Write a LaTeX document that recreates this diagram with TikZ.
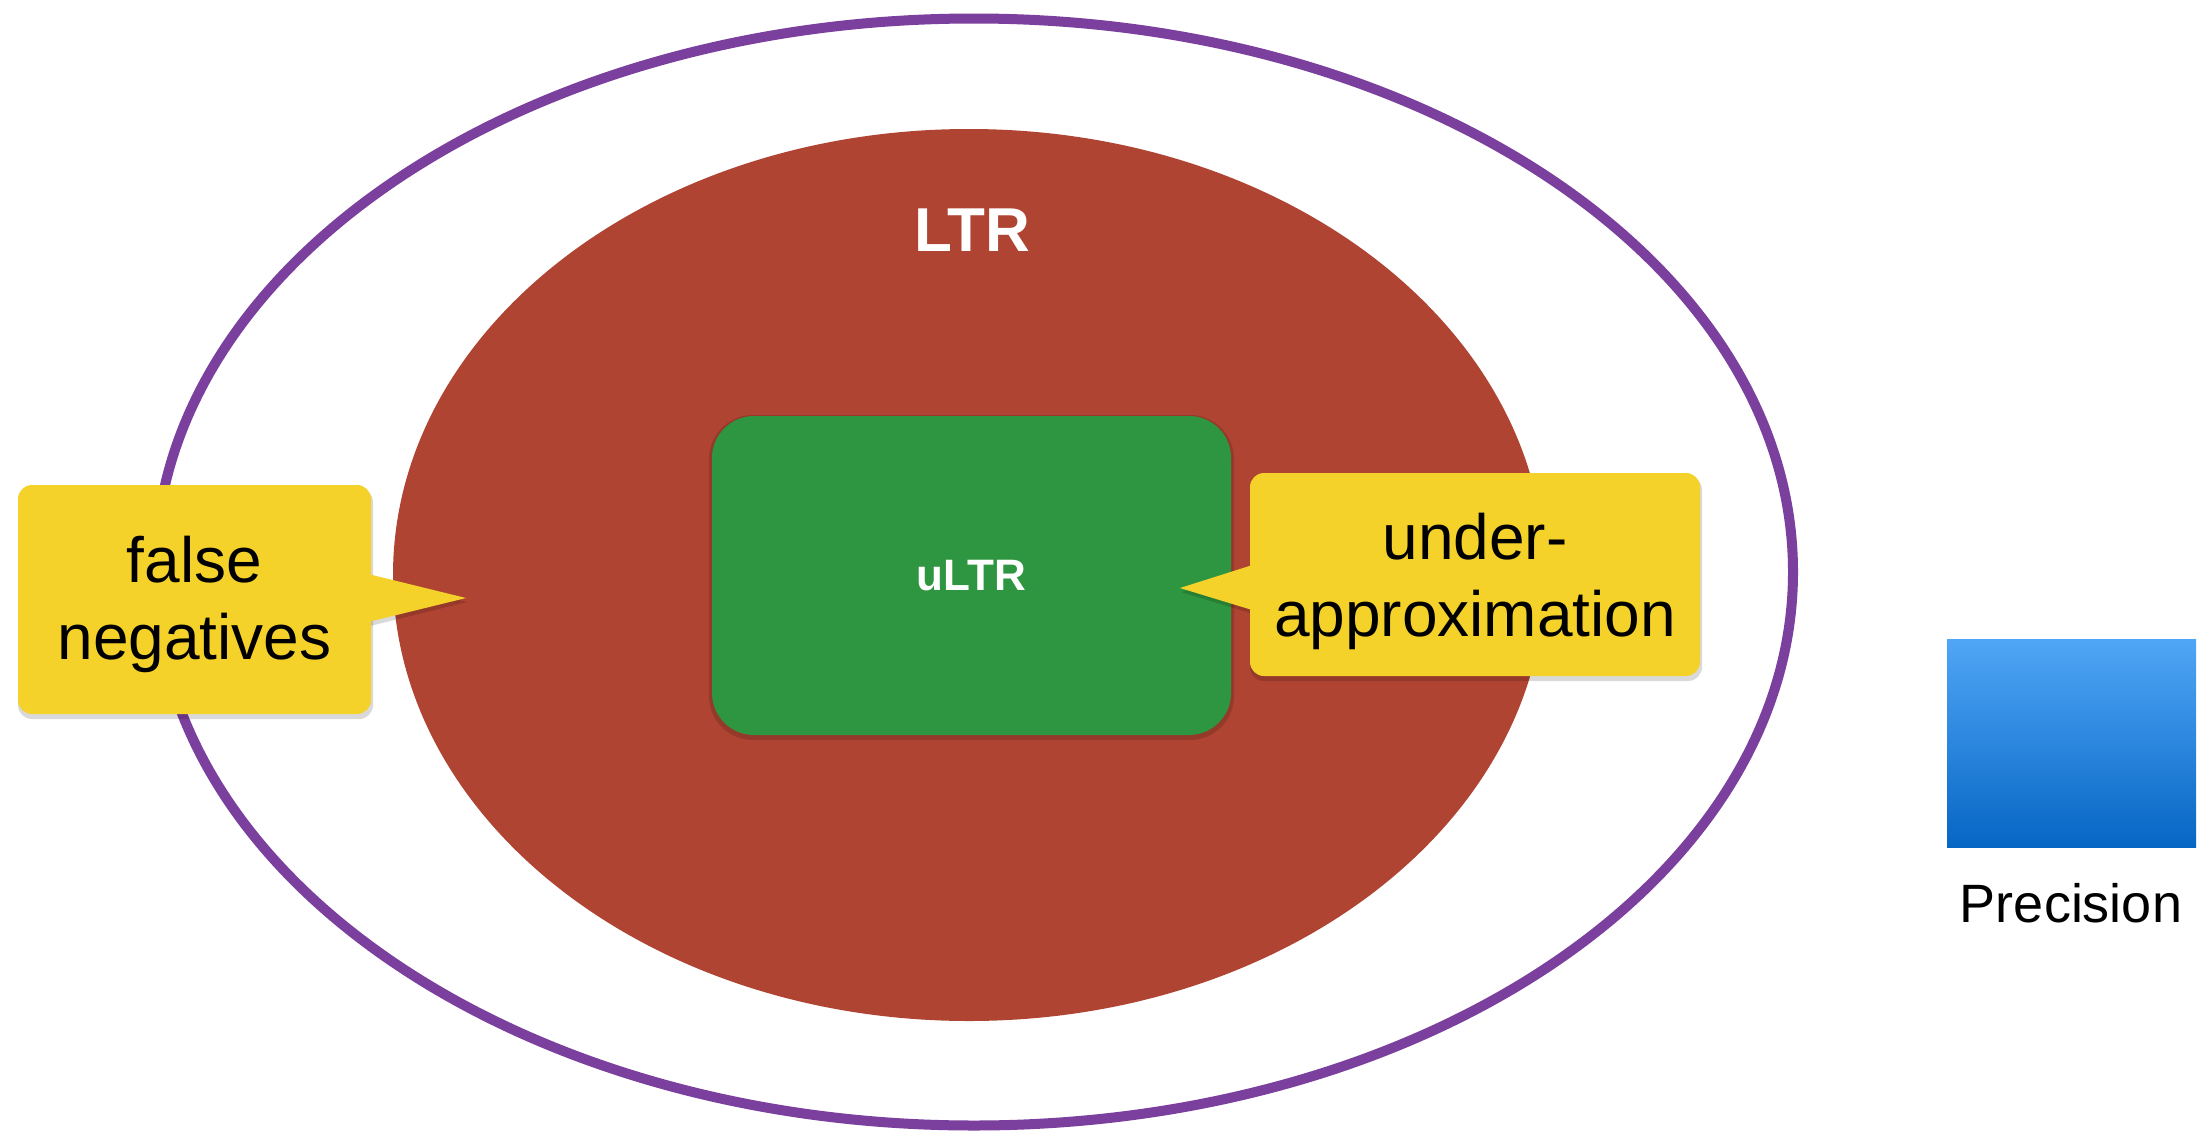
\documentclass[tikz,border=0pt]{standalone}
\usepackage{fontspec}
\setmainfont{Liberation Sans}
\usetikzlibrary{shapes.geometric}
\definecolor{purp}{RGB}{123,63,158}
\definecolor{ltrred}{RGB}{176,68,50}
\definecolor{ugreen}{RGB}{46,150,64}
\definecolor{cyellow}{RGB}{245,210,42}
\definecolor{btop}{RGB}{80,166,246}
\definecolor{bbot}{RGB}{6,102,196}
\tikzset{
  calloutbox/.style={fill=cyellow, rounded corners=14pt, inner sep=0pt, outer sep=0pt},
  calloutshadow/.style={fill=black, opacity=0.15, rounded corners=14pt, inner sep=0pt, outer sep=0pt},
  callouttext/.style={align=center, font=\fontsize{64}{77}\selectfont, text=black},
  whitebold/.style={text=white, font=\bfseries},
}
\begin{document}
\begin{tikzpicture}[x=1pt,y=-1pt]
\useasboundingbox (0,0) rectangle (2203,1135);
% outer set
\node[ellipse, draw=purp, line width=10pt, minimum width=1638pt, minimum height=1107pt, inner sep=0pt] (outer) at (974,572) {};
% LTR
\node[ellipse, fill=ltrred, minimum width=1152pt, minimum height=892pt, inner sep=0pt] (ltr) at (969,575) {};
\node[whitebold, font=\bfseries\fontsize{62}{74}\selectfont] (ltrlabel) at (972,230) {LTR};
% uLTR
\node[fill=black, opacity=0.15, rounded corners=44pt, minimum width=525pt, minimum height=325pt, inner sep=0pt] (ultrshadow) at (971.5,577.5) {};
\node[fill=ugreen, rounded corners=42pt, minimum width=519pt, minimum height=319pt, inner sep=0pt] (ultr) at (971.5,575.5) {};
\node[whitebold, font=\bfseries\fontsize{44}{53}\selectfont] (ultrlabel) at (ultr.center) {uLTR};
% left callout
\coordinate (ltip) at (466,598);
\coordinate (ltips) at (467,602);
\node[calloutshadow, minimum width=355pt, minimum height=231pt] (lboxs) at (195.5,603.5) {};
\fill[black, opacity=0.15] (362,576) -- (ltips) -- (362,628) -- cycle;
\node[calloutbox, minimum width=353pt, minimum height=229pt] (lbox) at (194.5,599.5) {};
\fill[cyellow] (360,572) -- (ltip) -- (360,624) -- cycle;
\node[callouttext] (ltext) at ([yshift=-5pt]lbox.center) {false\\negatives};
% right callout
\coordinate (rtip) at (1180,588);
\coordinate (rtips) at (1181,592);
\node[calloutshadow, minimum width=452pt, minimum height=205pt] (rboxs) at (1476,578.5) {};
\fill[black, opacity=0.15] (1263,566) -- (rtips) -- (1263,617) -- cycle;
\node[calloutbox, minimum width=450pt, minimum height=203pt] (rbox) at (1475,574.5) {};
\fill[cyellow] (1262,562) -- (rtip) -- (1262,613) -- cycle;
\node[callouttext] (rtext) at ([yshift=-7pt]rbox.center) {under-\\approximation};
% precision legend
\node[top color=btop, bottom color=bbot, minimum width=249pt, minimum height=208pt, inner sep=0pt] (prec) at (2071.5,743) {};
\node[anchor=base, font=\fontsize{54}{64}\selectfont] (preclabel) at (2071,922) {Precision};
\end{tikzpicture}
\end{document}
